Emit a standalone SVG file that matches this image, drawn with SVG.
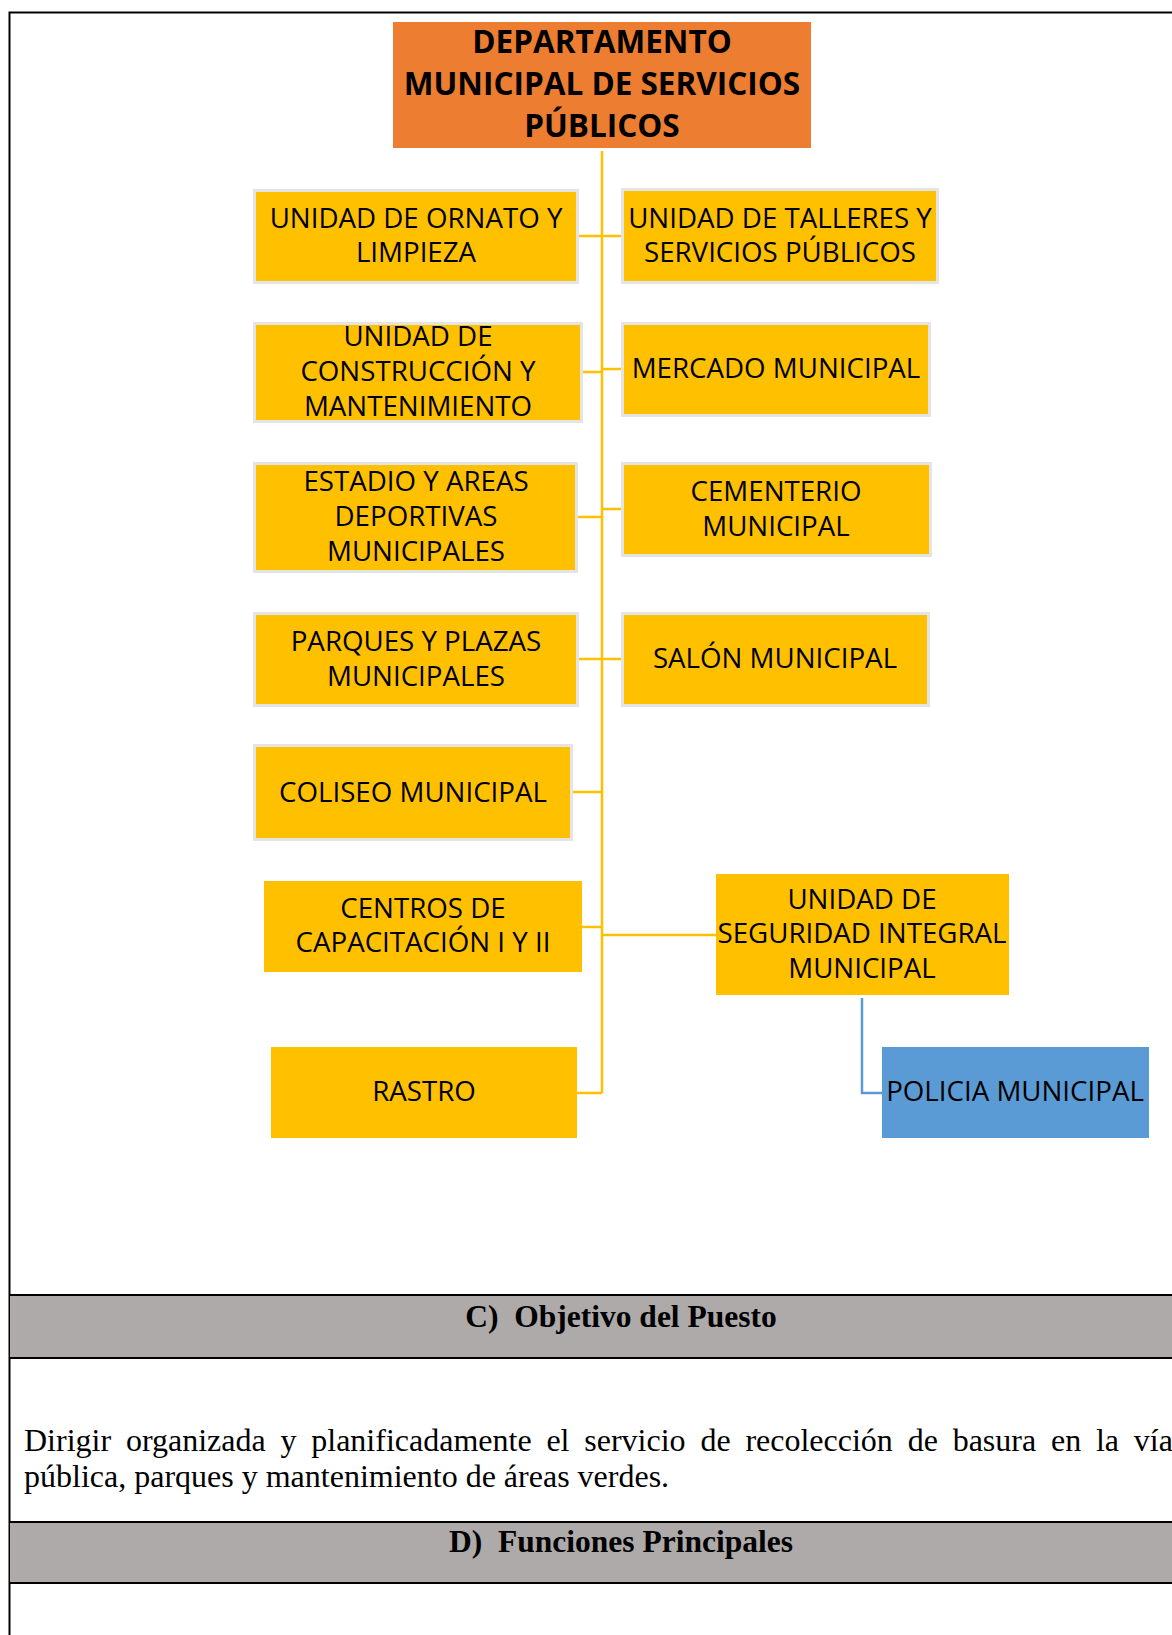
<svg xmlns="http://www.w3.org/2000/svg" width="1172" height="1635" viewBox="0 0 1172 1635">
<style>
.box{fill:#FFC000;stroke:#E4E4E4;stroke-width:3}
.boxn{fill:#FFC000}
.t{font-family:"Open Sans","Noto Sans",sans-serif;font-size:27.7px;fill:#000;text-anchor:middle}
.tb{font-family:"Open Sans","Noto Sans",sans-serif;font-size:31.5px;font-weight:bold;fill:#000;text-anchor:middle}
.con{fill:none;stroke:#FFC000;stroke-width:2.5}
.blue{fill:none;stroke:#5B9BD5;stroke-width:2.5}
.band{fill:#AEAAAA}
.rule{stroke:#000;stroke-width:2;fill:none}
.h{font-family:"Liberation Serif","Times New Roman",serif;font-size:31.5px;font-weight:bold;fill:#000;text-anchor:middle}
.p{font-family:"Liberation Serif","Times New Roman",serif;font-size:32px;fill:#000}
</style>
<rect width="1172" height="1635" fill="#fff"/>
<g id="frame">
<path class="rule" d="M9.5,1635 V12.5 H1172"/>
</g>
<g id="connectors">
<path class="con" d="M602,151 V1093"/>
<path class="con" d="M579,236 H621"/>
<path class="con" d="M583,372 H602 M602,369 H621"/>
<path class="con" d="M578,517 H602 M602,509 H621"/>
<path class="con" d="M579,659 H621"/>
<path class="con" d="M573,792 H602"/>
<path class="con" d="M582,927 H602"/>
<path class="con" d="M602,935 H716"/>
<path class="con" d="M577,1093 H602"/>
<path class="blue" d="M862,998 V1093 H882"/>
</g>
<g id="n-departamento">
<rect x="393" y="22" width="418" height="126" fill="#ED7D31"/>
<text class="tb" x="602" y="53">DEPARTAMENTO</text>
<text class="tb" x="602" y="95">MUNICIPAL DE SERVICIOS</text>
<text class="tb" x="602" y="137">PÚBLICOS</text>
</g>
<g id="n-ornato">
<rect class="box" x="254.5" y="190.5" width="323" height="92"/>
<text class="t" x="416" y="228">UNIDAD DE ORNATO Y</text>
<text class="t" x="416" y="262">LIMPIEZA</text>
</g>
<g id="n-talleres">
<rect class="box" x="622.5" y="189.5" width="315" height="93"/>
<text class="t" x="780" y="228">UNIDAD DE TALLERES Y</text>
<text class="t" x="780" y="262">SERVICIOS PÚBLICOS</text>
</g>
<g id="n-construccion">
<rect class="box" x="254.5" y="323.5" width="327" height="98"/>
<text class="t" x="418" y="346">UNIDAD DE</text>
<text class="t" x="418" y="381">CONSTRUCCIÓN Y</text>
<text class="t" x="418" y="416">MANTENIMIENTO</text>
</g>
<g id="n-mercado">
<rect class="box" x="622.5" y="323.5" width="307" height="92"/>
<text class="t" x="776" y="378">MERCADO MUNICIPAL</text>
</g>
<g id="n-estadio">
<rect class="box" x="254.5" y="463.5" width="322" height="108"/>
<text class="t" x="416" y="491">ESTADIO Y AREAS</text>
<text class="t" x="416" y="526">DEPORTIVAS</text>
<text class="t" x="416" y="561">MUNICIPALES</text>
</g>
<g id="n-cementerio">
<rect class="box" x="622.5" y="463.5" width="308" height="92"/>
<text class="t" x="776" y="501">CEMENTERIO</text>
<text class="t" x="776" y="536">MUNICIPAL</text>
</g>
<g id="n-parques">
<rect class="box" x="254.5" y="613.5" width="323" height="92"/>
<text class="t" x="416" y="651">PARQUES Y PLAZAS</text>
<text class="t" x="416" y="686">MUNICIPALES</text>
</g>
<g id="n-salon">
<rect class="box" x="622.5" y="613.5" width="306" height="92"/>
<text class="t" x="775" y="668">SALÓN MUNICIPAL</text>
</g>
<g id="n-coliseo">
<rect class="box" x="254.5" y="745.5" width="317" height="94"/>
<text class="t" x="413" y="802">COLISEO MUNICIPAL</text>
</g>
<g id="n-centros">
<rect class="boxn" x="264" y="881" width="318" height="91"/>
<text class="t" x="423" y="918">CENTROS DE</text>
<text class="t" x="423" y="952">CAPACITACIÓN I Y II</text>
</g>
<g id="n-seguridad">
<rect class="boxn" x="716" y="874" width="293" height="121"/>
<text class="t" x="862" y="909">UNIDAD DE</text>
<text class="t" x="862" y="943">SEGURIDAD INTEGRAL</text>
<text class="t" x="862" y="978">MUNICIPAL</text>
</g>
<g id="n-rastro">
<rect class="boxn" x="271" y="1047" width="306" height="91"/>
<text class="t" x="424" y="1101">RASTRO</text>
</g>
<g id="n-policia">
<rect x="882" y="1047" width="267" height="91" fill="#5B9BD5"/>
<text class="t" x="1015" y="1101">POLICIA MUNICIPAL</text>
</g>
<g id="section-c">
<rect class="band" x="10" y="1295" width="1162" height="63"/>
<path class="rule" d="M9.5,1295 H1172 M9.5,1358 H1172"/>
<text class="h" x="621" y="1327" xml:space="preserve">C)  Objetivo del Puesto</text>
</g>
<g id="objective-text">
<text class="p" x="24" y="1451" word-spacing="6.8">Dirigir organizada y planificadamente el servicio de recolección de basura en la vía</text>
<text class="p" x="24" y="1487">pública, parques y mantenimiento de áreas verdes.</text>
</g>
<g id="section-d">
<rect class="band" x="10" y="1522" width="1162" height="61"/>
<path class="rule" d="M9.5,1522 H1172 M9.5,1583 H1172"/>
<text class="h" x="621" y="1552" xml:space="preserve">D)  Funciones Principales</text>
</g>
</svg>
